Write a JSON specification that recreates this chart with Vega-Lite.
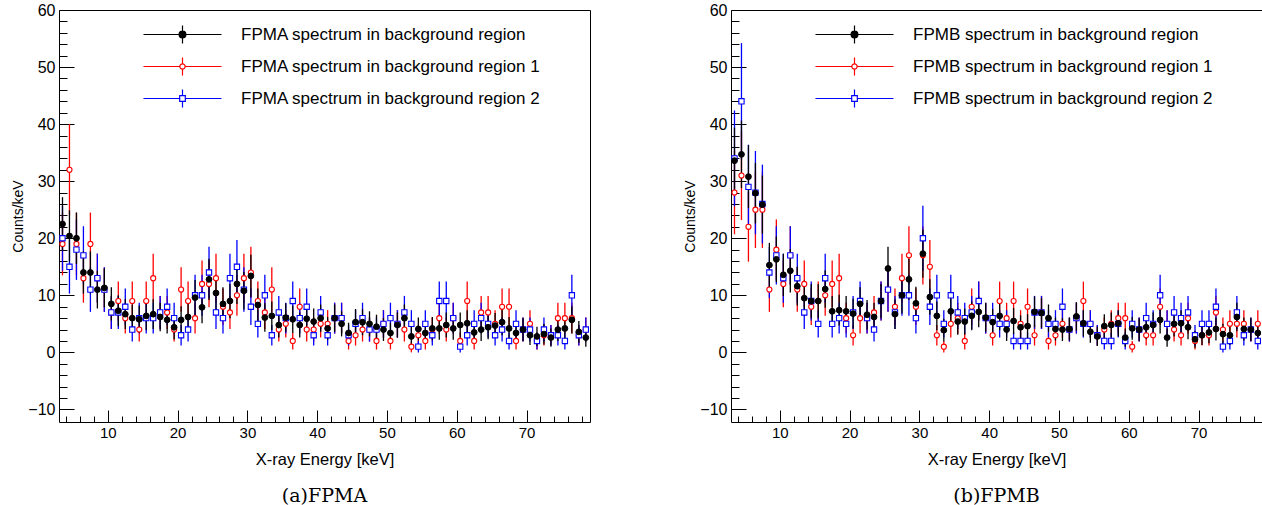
{
"$schema": "https://vega.github.io/schema/vega-lite/v6.json",
"background": "white",
"padding": {"left": 11, "top": 1, "right": 0, "bottom": 0},
"spacing": 91,
"datasets": {
"A": [
{"s":"r1","E":3.5,"v":19,"e":5.5},{"s":"r1","E":4.5,"v":32,"e":8.0},{"s":"r1","E":5.5,"v":19,"e":5.5},{"s":"r1","E":6.5,"v":13,"e":4.3},{"s":"r1","E":7.5,"v":19,"e":5.5},{"s":"r1","E":8.5,"v":13,"e":4.3},{"s":"r1","E":9.5,"v":11,"e":3.9},{"s":"r1","E":10.5,"v":7,"e":2.9},{"s":"r1","E":11.5,"v":9,"e":3.4},{"s":"r1","E":12.5,"v":6,"e":2.7},
{"s":"r1","E":13.5,"v":9,"e":3.4},{"s":"r1","E":14.5,"v":4,"e":2.1},{"s":"r1","E":15.5,"v":9,"e":3.4},{"s":"r1","E":16.5,"v":13,"e":4.3},{"s":"r1","E":17.5,"v":7,"e":2.9},{"s":"r1","E":18.5,"v":7,"e":2.9},{"s":"r1","E":19.5,"v":4,"e":2.1},{"s":"r1","E":20.5,"v":11,"e":3.9},{"s":"r1","E":21.5,"v":9,"e":3.4},{"s":"r1","E":22.5,"v":6,"e":2.7},
{"s":"r1","E":23.5,"v":12,"e":4.1},{"s":"r1","E":24.5,"v":12,"e":4.1},{"s":"r1","E":25.5,"v":13,"e":4.3},{"s":"r1","E":26.5,"v":8,"e":3.2},{"s":"r1","E":27.5,"v":7,"e":2.9},{"s":"r1","E":28.5,"v":10,"e":3.6},{"s":"r1","E":29.5,"v":13,"e":4.3},{"s":"r1","E":30.5,"v":14,"e":4.5},{"s":"r1","E":31.5,"v":9,"e":3.4},{"s":"r1","E":32.5,"v":7,"e":2.9},
{"s":"r1","E":33.5,"v":11,"e":3.9},{"s":"r1","E":34.5,"v":4,"e":2.1},{"s":"r1","E":35.5,"v":5,"e":2.4},{"s":"r1","E":36.5,"v":2,"e":1.5},{"s":"r1","E":37.5,"v":8,"e":3.2},{"s":"r1","E":38.5,"v":4,"e":2.1},{"s":"r1","E":39.5,"v":4,"e":2.1},{"s":"r1","E":40.5,"v":5,"e":2.4},{"s":"r1","E":41.5,"v":5,"e":2.4},{"s":"r1","E":42.5,"v":6,"e":2.7},
{"s":"r1","E":43.5,"v":6,"e":2.7},{"s":"r1","E":44.5,"v":2,"e":1.5},{"s":"r1","E":45.5,"v":3,"e":1.8},{"s":"r1","E":46.5,"v":4,"e":2.1},{"s":"r1","E":47.5,"v":4,"e":2.1},{"s":"r1","E":48.5,"v":2,"e":1.5},{"s":"r1","E":49.5,"v":5,"e":2.4},{"s":"r1","E":50.5,"v":2,"e":1.5},{"s":"r1","E":51.5,"v":5,"e":2.4},{"s":"r1","E":52.5,"v":4,"e":2.1},
{"s":"r1","E":53.5,"v":1,"e":1.0},{"s":"r1","E":54.5,"v":3,"e":1.8},{"s":"r1","E":55.5,"v":2,"e":1.5},{"s":"r1","E":56.5,"v":4,"e":2.1},{"s":"r1","E":57.5,"v":6,"e":2.7},{"s":"r1","E":58.5,"v":4,"e":2.1},{"s":"r1","E":59.5,"v":6,"e":2.7},{"s":"r1","E":60.5,"v":2,"e":1.5},{"s":"r1","E":61.5,"v":9,"e":3.4},{"s":"r1","E":62.5,"v":2,"e":1.5},
{"s":"r1","E":63.5,"v":7,"e":2.9},{"s":"r1","E":64.5,"v":7,"e":2.9},{"s":"r1","E":65.5,"v":5,"e":2.4},{"s":"r1","E":66.5,"v":8,"e":3.2},{"s":"r1","E":67.5,"v":8,"e":3.2},{"s":"r1","E":68.5,"v":2,"e":1.5},{"s":"r1","E":69.5,"v":4,"e":2.1},{"s":"r1","E":70.5,"v":5,"e":2.4},{"s":"r1","E":71.5,"v":2,"e":1.5},{"s":"r1","E":72.5,"v":3,"e":1.8},
{"s":"r1","E":73.5,"v":3,"e":1.8},{"s":"r1","E":74.5,"v":6,"e":2.7},{"s":"r1","E":75.5,"v":6,"e":2.7},{"s":"r1","E":76.5,"v":6,"e":2.7},{"s":"r1","E":77.5,"v":3,"e":1.8},{"s":"r1","E":78.5,"v":4,"e":2.1},
{"s":"r2","E":3.5,"v":20,"e":5.7},{"s":"r2","E":4.5,"v":15,"e":4.7},{"s":"r2","E":5.5,"v":18,"e":5.3},{"s":"r2","E":6.5,"v":17,"e":5.1},{"s":"r2","E":7.5,"v":11,"e":3.9},{"s":"r2","E":8.5,"v":13,"e":4.3},{"s":"r2","E":9.5,"v":11,"e":3.9},{"s":"r2","E":10.5,"v":7,"e":2.9},{"s":"r2","E":11.5,"v":7,"e":2.9},{"s":"r2","E":12.5,"v":8,"e":3.2},
{"s":"r2","E":13.5,"v":4,"e":2.1},{"s":"r2","E":14.5,"v":6,"e":2.7},{"s":"r2","E":15.5,"v":6,"e":2.7},{"s":"r2","E":16.5,"v":6,"e":2.7},{"s":"r2","E":17.5,"v":7,"e":2.9},{"s":"r2","E":18.5,"v":8,"e":3.2},{"s":"r2","E":19.5,"v":6,"e":2.7},{"s":"r2","E":20.5,"v":3,"e":1.8},{"s":"r2","E":21.5,"v":4,"e":2.1},{"s":"r2","E":22.5,"v":10,"e":3.6},
{"s":"r2","E":23.5,"v":10,"e":3.6},{"s":"r2","E":24.5,"v":14,"e":4.5},{"s":"r2","E":25.5,"v":7,"e":2.9},{"s":"r2","E":26.5,"v":6,"e":2.7},{"s":"r2","E":27.5,"v":13,"e":4.3},{"s":"r2","E":28.5,"v":15,"e":4.7},{"s":"r2","E":29.5,"v":11,"e":3.9},{"s":"r2","E":30.5,"v":8,"e":3.2},{"s":"r2","E":31.5,"v":5,"e":2.4},{"s":"r2","E":32.5,"v":10,"e":3.6},
{"s":"r2","E":33.5,"v":3,"e":1.8},{"s":"r2","E":34.5,"v":7,"e":2.9},{"s":"r2","E":35.5,"v":6,"e":2.7},{"s":"r2","E":36.5,"v":9,"e":3.4},{"s":"r2","E":37.5,"v":6,"e":2.7},{"s":"r2","E":38.5,"v":8,"e":3.2},{"s":"r2","E":39.5,"v":3,"e":1.8},{"s":"r2","E":40.5,"v":7,"e":2.9},{"s":"r2","E":41.5,"v":3,"e":1.8},{"s":"r2","E":42.5,"v":6,"e":2.7},
{"s":"r2","E":43.5,"v":6,"e":2.7},{"s":"r2","E":44.5,"v":3,"e":1.8},{"s":"r2","E":45.5,"v":5,"e":2.4},{"s":"r2","E":46.5,"v":6,"e":2.7},{"s":"r2","E":47.5,"v":4,"e":2.1},{"s":"r2","E":48.5,"v":4,"e":2.1},{"s":"r2","E":49.5,"v":5,"e":2.4},{"s":"r2","E":50.5,"v":6,"e":2.7},{"s":"r2","E":51.5,"v":5,"e":2.4},{"s":"r2","E":52.5,"v":7,"e":2.9},
{"s":"r2","E":53.5,"v":5,"e":2.4},{"s":"r2","E":54.5,"v":1,"e":1.0},{"s":"r2","E":55.5,"v":5,"e":2.4},{"s":"r2","E":56.5,"v":3,"e":1.8},{"s":"r2","E":57.5,"v":9,"e":3.4},{"s":"r2","E":58.5,"v":9,"e":3.4},{"s":"r2","E":59.5,"v":6,"e":2.7},{"s":"r2","E":60.5,"v":1,"e":1.0},{"s":"r2","E":61.5,"v":3,"e":1.8},{"s":"r2","E":62.5,"v":5,"e":2.4},
{"s":"r2","E":63.5,"v":6,"e":2.7},{"s":"r2","E":64.5,"v":5,"e":2.4},{"s":"r2","E":65.5,"v":3,"e":1.8},{"s":"r2","E":66.5,"v":4,"e":2.1},{"s":"r2","E":67.5,"v":2,"e":1.5},{"s":"r2","E":68.5,"v":5,"e":2.4},{"s":"r2","E":69.5,"v":4,"e":2.1},{"s":"r2","E":70.5,"v":4,"e":2.1},{"s":"r2","E":71.5,"v":2,"e":1.5},{"s":"r2","E":72.5,"v":4,"e":2.1},
{"s":"r2","E":73.5,"v":3,"e":1.8},{"s":"r2","E":74.5,"v":3,"e":1.8},{"s":"r2","E":75.5,"v":2,"e":1.5},{"s":"r2","E":76.5,"v":10,"e":3.6},{"s":"r2","E":77.5,"v":3,"e":1.8},{"s":"r2","E":78.5,"v":4,"e":2.1},
{"s":"b","E":3.5,"v":22.5,"e":4.7},{"s":"b","E":4.5,"v":20.4,"e":4.5},{"s":"b","E":5.5,"v":20.0,"e":4.5},{"s":"b","E":6.5,"v":14.0,"e":3.7},{"s":"b","E":7.5,"v":14.0,"e":3.7},{"s":"b","E":8.5,"v":11.0,"e":3.3},{"s":"b","E":9.5,"v":11.3,"e":3.4},{"s":"b","E":10.5,"v":8.5,"e":2.9},{"s":"b","E":11.5,"v":7.3,"e":2.7},{"s":"b","E":12.5,"v":6.7,"e":2.6},
{"s":"b","E":13.5,"v":6.0,"e":2.4},{"s":"b","E":14.5,"v":5.8,"e":2.4},{"s":"b","E":15.5,"v":6.4,"e":2.5},{"s":"b","E":16.5,"v":6.7,"e":2.6},{"s":"b","E":17.5,"v":6.2,"e":2.5},{"s":"b","E":18.5,"v":5.7,"e":2.4},{"s":"b","E":19.5,"v":4.4,"e":2.1},{"s":"b","E":20.5,"v":5.7,"e":2.4},{"s":"b","E":21.5,"v":6.2,"e":2.5},{"s":"b","E":22.5,"v":9.6,"e":3.1},
{"s":"b","E":23.5,"v":7.9,"e":2.8},{"s":"b","E":24.5,"v":12.8,"e":3.6},{"s":"b","E":25.5,"v":10.4,"e":3.2},{"s":"b","E":26.5,"v":8.5,"e":2.9},{"s":"b","E":27.5,"v":9.0,"e":3.0},{"s":"b","E":28.5,"v":12.0,"e":3.5},{"s":"b","E":29.5,"v":10.8,"e":3.3},{"s":"b","E":30.5,"v":13.4,"e":3.7},{"s":"b","E":31.5,"v":8.3,"e":2.9},{"s":"b","E":32.5,"v":6.1,"e":2.5},
{"s":"b","E":33.5,"v":6.4,"e":2.5},{"s":"b","E":34.5,"v":4.8,"e":2.2},{"s":"b","E":35.5,"v":6.1,"e":2.5},{"s":"b","E":36.5,"v":5.8,"e":2.4},{"s":"b","E":37.5,"v":4.8,"e":2.2},{"s":"b","E":38.5,"v":5.9,"e":2.4},{"s":"b","E":39.5,"v":5.4,"e":2.3},{"s":"b","E":40.5,"v":6.0,"e":2.4},{"s":"b","E":41.5,"v":4.2,"e":2.0},{"s":"b","E":42.5,"v":6.0,"e":2.4},
{"s":"b","E":43.5,"v":5.0,"e":2.2},{"s":"b","E":44.5,"v":3.4,"e":1.8},{"s":"b","E":45.5,"v":5.3,"e":2.3},{"s":"b","E":46.5,"v":5.3,"e":2.3},{"s":"b","E":47.5,"v":5.0,"e":2.2},{"s":"b","E":48.5,"v":4.5,"e":2.1},{"s":"b","E":49.5,"v":4.0,"e":2.0},{"s":"b","E":50.5,"v":3.4,"e":1.8},{"s":"b","E":51.5,"v":4.8,"e":2.2},{"s":"b","E":52.5,"v":6.0,"e":2.4},
{"s":"b","E":53.5,"v":2.8,"e":1.7},{"s":"b","E":54.5,"v":4.1,"e":2.0},{"s":"b","E":55.5,"v":3.4,"e":1.8},{"s":"b","E":56.5,"v":4.2,"e":2.0},{"s":"b","E":57.5,"v":4.2,"e":2.0},{"s":"b","E":58.5,"v":4.8,"e":2.2},{"s":"b","E":59.5,"v":4.2,"e":2.0},{"s":"b","E":60.5,"v":4.8,"e":2.2},{"s":"b","E":61.5,"v":5.1,"e":2.3},{"s":"b","E":62.5,"v":3.5,"e":1.9},
{"s":"b","E":63.5,"v":4.0,"e":2.0},{"s":"b","E":64.5,"v":4.4,"e":2.1},{"s":"b","E":65.5,"v":4.7,"e":2.2},{"s":"b","E":66.5,"v":5.3,"e":2.3},{"s":"b","E":67.5,"v":4.2,"e":2.0},{"s":"b","E":68.5,"v":3.4,"e":1.8},{"s":"b","E":69.5,"v":4.0,"e":2.0},{"s":"b","E":70.5,"v":3.0,"e":1.7},{"s":"b","E":71.5,"v":2.8,"e":1.7},{"s":"b","E":72.5,"v":3.2,"e":1.8},
{"s":"b","E":73.5,"v":2.6,"e":1.6},{"s":"b","E":74.5,"v":4.0,"e":2.0},{"s":"b","E":75.5,"v":4.2,"e":2.0},{"s":"b","E":76.5,"v":5.7,"e":2.4},{"s":"b","E":77.5,"v":3.6,"e":1.9},{"s":"b","E":78.5,"v":2.6,"e":1.6}
],
"B": [
{"s":"r1","E":3.5,"v":28,"e":7.3},{"s":"r1","E":4.5,"v":31,"e":7.8},{"s":"r1","E":5.5,"v":22,"e":6.1},{"s":"r1","E":6.5,"v":25,"e":6.7},{"s":"r1","E":7.5,"v":25,"e":6.7},{"s":"r1","E":8.5,"v":11,"e":3.9},{"s":"r1","E":9.5,"v":18,"e":5.3},{"s":"r1","E":10.5,"v":12,"e":4.1},{"s":"r1","E":11.5,"v":17,"e":5.1},{"s":"r1","E":12.5,"v":11,"e":3.9},
{"s":"r1","E":13.5,"v":12,"e":4.1},{"s":"r1","E":14.5,"v":8,"e":3.2},{"s":"r1","E":15.5,"v":9,"e":3.4},{"s":"r1","E":16.5,"v":10,"e":3.6},{"s":"r1","E":17.5,"v":12,"e":4.1},{"s":"r1","E":18.5,"v":13,"e":4.3},{"s":"r1","E":19.5,"v":6,"e":2.7},{"s":"r1","E":20.5,"v":3,"e":1.8},{"s":"r1","E":21.5,"v":6,"e":2.7},{"s":"r1","E":22.5,"v":6,"e":2.7},
{"s":"r1","E":23.5,"v":7,"e":2.9},{"s":"r1","E":24.5,"v":9,"e":3.4},{"s":"r1","E":25.5,"v":11,"e":3.9},{"s":"r1","E":26.5,"v":8,"e":3.2},{"s":"r1","E":27.5,"v":13,"e":4.3},{"s":"r1","E":28.5,"v":17,"e":5.1},{"s":"r1","E":29.5,"v":8,"e":3.2},{"s":"r1","E":30.5,"v":17,"e":5.1},{"s":"r1","E":31.5,"v":15,"e":4.7},{"s":"r1","E":32.5,"v":3,"e":1.8},
{"s":"r1","E":33.5,"v":1,"e":1.0},{"s":"r1","E":34.5,"v":5,"e":2.4},{"s":"r1","E":35.5,"v":6,"e":2.7},{"s":"r1","E":36.5,"v":2,"e":1.5},{"s":"r1","E":37.5,"v":8,"e":3.2},{"s":"r1","E":38.5,"v":9,"e":3.4},{"s":"r1","E":39.5,"v":6,"e":2.7},{"s":"r1","E":40.5,"v":3,"e":1.8},{"s":"r1","E":41.5,"v":9,"e":3.4},{"s":"r1","E":42.5,"v":6,"e":2.7},
{"s":"r1","E":43.5,"v":9,"e":3.4},{"s":"r1","E":44.5,"v":5,"e":2.4},{"s":"r1","E":45.5,"v":8,"e":3.2},{"s":"r1","E":46.5,"v":3,"e":1.8},{"s":"r1","E":47.5,"v":7,"e":2.9},{"s":"r1","E":48.5,"v":2,"e":1.5},{"s":"r1","E":49.5,"v":3,"e":1.8},{"s":"r1","E":50.5,"v":5,"e":2.4},{"s":"r1","E":51.5,"v":4,"e":2.1},{"s":"r1","E":52.5,"v":6,"e":2.7},
{"s":"r1","E":53.5,"v":9,"e":3.4},{"s":"r1","E":54.5,"v":5,"e":2.4},{"s":"r1","E":55.5,"v":3,"e":1.8},{"s":"r1","E":56.5,"v":4,"e":2.1},{"s":"r1","E":57.5,"v":5,"e":2.4},{"s":"r1","E":58.5,"v":6,"e":2.7},{"s":"r1","E":59.5,"v":6,"e":2.7},{"s":"r1","E":60.5,"v":1,"e":1.0},{"s":"r1","E":61.5,"v":4,"e":2.1},{"s":"r1","E":62.5,"v":3,"e":1.8},
{"s":"r1","E":63.5,"v":3,"e":1.8},{"s":"r1","E":64.5,"v":8,"e":3.2},{"s":"r1","E":65.5,"v":5,"e":2.4},{"s":"r1","E":66.5,"v":4,"e":2.1},{"s":"r1","E":67.5,"v":3,"e":1.8},{"s":"r1","E":68.5,"v":6,"e":2.7},{"s":"r1","E":69.5,"v":2,"e":1.5},{"s":"r1","E":70.5,"v":3,"e":1.8},{"s":"r1","E":71.5,"v":3,"e":1.8},{"s":"r1","E":72.5,"v":7,"e":2.9},
{"s":"r1","E":73.5,"v":4,"e":2.1},{"s":"r1","E":74.5,"v":5,"e":2.4},{"s":"r1","E":75.5,"v":5,"e":2.4},{"s":"r1","E":76.5,"v":5,"e":2.4},{"s":"r1","E":77.5,"v":4,"e":2.1},{"s":"r1","E":78.5,"v":5,"e":2.4},
{"s":"r2","E":3.5,"v":34,"e":8.4},{"s":"r2","E":4.5,"v":44,"e":10.2},{"s":"r2","E":5.5,"v":29,"e":7.4},{"s":"r2","E":6.5,"v":28,"e":7.3},{"s":"r2","E":7.5,"v":26,"e":6.9},{"s":"r2","E":8.5,"v":14,"e":4.5},{"s":"r2","E":9.5,"v":17,"e":5.1},{"s":"r2","E":10.5,"v":13,"e":4.3},{"s":"r2","E":11.5,"v":17,"e":5.1},{"s":"r2","E":12.5,"v":13,"e":4.3},
{"s":"r2","E":13.5,"v":7,"e":2.9},{"s":"r2","E":14.5,"v":9,"e":3.4},{"s":"r2","E":15.5,"v":5,"e":2.4},{"s":"r2","E":16.5,"v":13,"e":4.3},{"s":"r2","E":17.5,"v":5,"e":2.4},{"s":"r2","E":18.5,"v":6,"e":2.7},{"s":"r2","E":19.5,"v":5,"e":2.4},{"s":"r2","E":20.5,"v":7,"e":2.9},{"s":"r2","E":21.5,"v":9,"e":3.4},{"s":"r2","E":22.5,"v":6,"e":2.7},
{"s":"r2","E":23.5,"v":4,"e":2.1},{"s":"r2","E":24.5,"v":9,"e":3.4},{"s":"r2","E":25.5,"v":11,"e":3.9},{"s":"r2","E":26.5,"v":7,"e":2.9},{"s":"r2","E":27.5,"v":10,"e":3.6},{"s":"r2","E":28.5,"v":10,"e":3.6},{"s":"r2","E":29.5,"v":6,"e":2.7},{"s":"r2","E":30.5,"v":20,"e":5.7},{"s":"r2","E":31.5,"v":8,"e":3.2},{"s":"r2","E":32.5,"v":10,"e":3.6},
{"s":"r2","E":33.5,"v":5,"e":2.4},{"s":"r2","E":34.5,"v":10,"e":3.6},{"s":"r2","E":35.5,"v":7,"e":2.9},{"s":"r2","E":36.5,"v":6,"e":2.7},{"s":"r2","E":37.5,"v":7,"e":2.9},{"s":"r2","E":38.5,"v":9,"e":3.4},{"s":"r2","E":39.5,"v":6,"e":2.7},{"s":"r2","E":40.5,"v":6,"e":2.7},{"s":"r2","E":41.5,"v":5,"e":2.4},{"s":"r2","E":42.5,"v":5,"e":2.4},
{"s":"r2","E":43.5,"v":2,"e":1.5},{"s":"r2","E":44.5,"v":2,"e":1.5},{"s":"r2","E":45.5,"v":2,"e":1.5},{"s":"r2","E":46.5,"v":7,"e":2.9},{"s":"r2","E":47.5,"v":7,"e":2.9},{"s":"r2","E":48.5,"v":5,"e":2.4},{"s":"r2","E":49.5,"v":5,"e":2.4},{"s":"r2","E":50.5,"v":8,"e":3.2},{"s":"r2","E":51.5,"v":4,"e":2.1},{"s":"r2","E":52.5,"v":6,"e":2.7},
{"s":"r2","E":53.5,"v":5,"e":2.4},{"s":"r2","E":54.5,"v":5,"e":2.4},{"s":"r2","E":55.5,"v":3,"e":1.8},{"s":"r2","E":56.5,"v":2,"e":1.5},{"s":"r2","E":57.5,"v":2,"e":1.5},{"s":"r2","E":58.5,"v":5,"e":2.4},{"s":"r2","E":59.5,"v":2,"e":1.5},{"s":"r2","E":60.5,"v":5,"e":2.4},{"s":"r2","E":61.5,"v":4,"e":2.1},{"s":"r2","E":62.5,"v":6,"e":2.7},
{"s":"r2","E":63.5,"v":5,"e":2.4},{"s":"r2","E":64.5,"v":10,"e":3.6},{"s":"r2","E":65.5,"v":5,"e":2.4},{"s":"r2","E":66.5,"v":7,"e":2.9},{"s":"r2","E":67.5,"v":6,"e":2.7},{"s":"r2","E":68.5,"v":7,"e":2.9},{"s":"r2","E":69.5,"v":3,"e":1.8},{"s":"r2","E":70.5,"v":5,"e":2.4},{"s":"r2","E":71.5,"v":5,"e":2.4},{"s":"r2","E":72.5,"v":8,"e":3.2},
{"s":"r2","E":73.5,"v":1,"e":1.0},{"s":"r2","E":74.5,"v":2,"e":1.5},{"s":"r2","E":75.5,"v":7,"e":2.9},{"s":"r2","E":76.5,"v":3,"e":1.8},{"s":"r2","E":77.5,"v":4,"e":2.1},{"s":"r2","E":78.5,"v":2,"e":1.5},
{"s":"b","E":3.5,"v":33.6,"e":5.8},{"s":"b","E":4.5,"v":34.7,"e":5.9},{"s":"b","E":5.5,"v":30.8,"e":5.5},{"s":"b","E":6.5,"v":27.9,"e":5.3},{"s":"b","E":7.5,"v":25.9,"e":5.1},{"s":"b","E":8.5,"v":15.3,"e":3.9},{"s":"b","E":9.5,"v":16.3,"e":4.0},{"s":"b","E":10.5,"v":13.6,"e":3.7},{"s":"b","E":11.5,"v":14.3,"e":3.8},{"s":"b","E":12.5,"v":11.6,"e":3.4},
{"s":"b","E":13.5,"v":9.5,"e":3.1},{"s":"b","E":14.5,"v":9.0,"e":3.0},{"s":"b","E":15.5,"v":9.0,"e":3.0},{"s":"b","E":16.5,"v":11.1,"e":3.3},{"s":"b","E":17.5,"v":7.2,"e":2.7},{"s":"b","E":18.5,"v":7.4,"e":2.7},{"s":"b","E":19.5,"v":7.2,"e":2.7},{"s":"b","E":20.5,"v":6.8,"e":2.6},{"s":"b","E":21.5,"v":8.5,"e":2.9},{"s":"b","E":22.5,"v":6.6,"e":2.6},
{"s":"b","E":23.5,"v":6.2,"e":2.5},{"s":"b","E":24.5,"v":9.0,"e":3.0},{"s":"b","E":25.5,"v":14.7,"e":3.8},{"s":"b","E":26.5,"v":6.7,"e":2.6},{"s":"b","E":27.5,"v":10.0,"e":3.2},{"s":"b","E":28.5,"v":12.8,"e":3.6},{"s":"b","E":29.5,"v":8.6,"e":2.9},{"s":"b","E":30.5,"v":17.3,"e":4.2},{"s":"b","E":31.5,"v":9.7,"e":3.1},{"s":"b","E":32.5,"v":6.4,"e":2.5},
{"s":"b","E":33.5,"v":3.9,"e":2.0},{"s":"b","E":34.5,"v":7.2,"e":2.7},{"s":"b","E":35.5,"v":5.4,"e":2.3},{"s":"b","E":36.5,"v":5.4,"e":2.3},{"s":"b","E":37.5,"v":6.4,"e":2.5},{"s":"b","E":38.5,"v":7.1,"e":2.7},{"s":"b","E":39.5,"v":6.1,"e":2.5},{"s":"b","E":40.5,"v":5.3,"e":2.3},{"s":"b","E":41.5,"v":6.4,"e":2.5},{"s":"b","E":42.5,"v":4.0,"e":2.0},
{"s":"b","E":43.5,"v":5.5,"e":2.3},{"s":"b","E":44.5,"v":4.4,"e":2.1},{"s":"b","E":45.5,"v":4.6,"e":2.1},{"s":"b","E":46.5,"v":7.1,"e":2.7},{"s":"b","E":47.5,"v":6.9,"e":2.6},{"s":"b","E":48.5,"v":6.0,"e":2.4},{"s":"b","E":49.5,"v":4.1,"e":2.0},{"s":"b","E":50.5,"v":4.0,"e":2.0},{"s":"b","E":51.5,"v":4.1,"e":2.0},{"s":"b","E":52.5,"v":6.3,"e":2.5},
{"s":"b","E":53.5,"v":5.1,"e":2.3},{"s":"b","E":54.5,"v":3.6,"e":1.9},{"s":"b","E":55.5,"v":2.8,"e":1.7},{"s":"b","E":56.5,"v":4.6,"e":2.1},{"s":"b","E":57.5,"v":4.8,"e":2.2},{"s":"b","E":58.5,"v":5.1,"e":2.3},{"s":"b","E":59.5,"v":2.6,"e":1.6},{"s":"b","E":60.5,"v":4.2,"e":2.0},{"s":"b","E":61.5,"v":4.0,"e":2.0},{"s":"b","E":62.5,"v":4.4,"e":2.1},
{"s":"b","E":63.5,"v":4.8,"e":2.2},{"s":"b","E":64.5,"v":5.7,"e":2.4},{"s":"b","E":65.5,"v":2.6,"e":1.6},{"s":"b","E":66.5,"v":5.0,"e":2.2},{"s":"b","E":67.5,"v":5.1,"e":2.3},{"s":"b","E":68.5,"v":4.4,"e":2.1},{"s":"b","E":69.5,"v":2.3,"e":1.5},{"s":"b","E":70.5,"v":3.0,"e":1.7},{"s":"b","E":71.5,"v":3.5,"e":1.9},{"s":"b","E":72.5,"v":4.1,"e":2.0},
{"s":"b","E":73.5,"v":3.2,"e":1.8},{"s":"b","E":74.5,"v":3.0,"e":1.7},{"s":"b","E":75.5,"v":6.2,"e":2.5},{"s":"b","E":76.5,"v":4.1,"e":2.0},{"s":"b","E":77.5,"v":4.0,"e":2.0},{"s":"b","E":78.5,"v":3.4,"e":1.8}
]
},
"hconcat": [
{
"width": 531, "height": 412,
"data": {"name": "A"},
"title": {"text": "(a)FPMA", "orient": "bottom", "anchor": "middle", "frame": "group", "font": "DejaVu Serif", "fontSize": 19, "fontWeight": "normal", "color": "#000000", "offset": 19},
"encoding": {
"x": {"field": "E", "type": "quantitative", "scale": {"domain": [3, 79.1], "nice": false, "zero": false},
 "axis": {"title": "X-ray Energy [keV]", "values": [4,6,8,10,12,14,16,18,20,22,24,26,28,30,32,34,36,38,40,42,44,46,48,50,52,54,56,58,60,62,64,66,68,70,72,74,76,78],
  "tickSize": {"condition": {"test": "datum.value % 10 === 0", "value": -12}, "value": -6},
  "labelExpr": "datum.value % 10 === 0 ? datum.label : ''", "labelPadding": 15, "labelFontSize": 15, "titleFontSize": 16.5, "titlePadding": 5}},
"y": {"field": "v", "type": "quantitative", "scale": {"domain": [-12.2, 60], "nice": false, "zero": false},
 "axis": {"title": "Counts/keV", "values": [-10,-8,-6,-4,-2,0,2,4,6,8,10,12,14,16,18,20,22,24,26,28,30,32,34,36,38,40,42,44,46,48,50,52,54,56,58,60],
  "tickSize": {"condition": {"test": "datum.value % 10 === 0", "value": -15}, "value": -8},
  "labelExpr": "datum.value % 10 === 0 ? datum.label : ''", "labelPadding": 19, "labelFontSize": 16, "titleFontSize": 14, "titlePadding": 2}}
},
"layer": [
{"transform": [{"filter": "datum.s == 'r1'"}], "mark": {"type": "errorbar", "thickness": 1.3, "color": "#ff0000"}, "encoding": {"yError": {"field": "e"}}},
{"transform": [{"filter": "datum.s == 'r2'"}], "mark": {"type": "errorbar", "thickness": 1.3, "color": "#0000ff"}, "encoding": {"yError": {"field": "e"}}},
{"transform": [{"filter": "datum.s == 'b'"}], "mark": {"type": "errorbar", "thickness": 1.3, "color": "#000000"}, "encoding": {"yError": {"field": "e"}}},
{"transform": [{"filter": "datum.s == 'r1'"}], "mark": {"type": "point", "shape": "circle", "filled": true, "fill": "#ffffff", "stroke": "#ff0000", "strokeWidth": 1.1, "size": 26, "opacity": 1}},
{"transform": [{"filter": "datum.s == 'r2'"}], "mark": {"type": "point", "shape": "square", "filled": true, "fill": "#ffffff", "stroke": "#0000ff", "strokeWidth": 1.1, "size": 28, "opacity": 1}},
{"transform": [{"filter": "datum.s == 'b'"}], "mark": {"type": "point", "shape": "circle", "filled": true, "fill": "#000000", "stroke": "#000000", "strokeWidth": 1, "size": 34, "opacity": 1}},
{"transform": [{"filter": "datum.E < 0"}], "mark": {"type": "point", "filled": false, "opacity": 1},
 "encoding": {
  "fill": {"field": "s", "type": "nominal", "scale": {"domain": ["b","r1","r2"], "range": ["#000000","#ffffff","#ffffff"]},
   "legend": {"orient": "none", "legendX": 115, "legendY": 16, "title": null, "direction": "vertical", "padding": 0,
    "symbolSize": 100, "symbolStrokeWidth": 1.2, "symbolOpacity": 1, "labelOffset": 50, "rowPadding": 9, "labelFont": "Liberation Sans", "labelFontSize": 17, "labelColor": "#000000", "labelLimit": 600,
    "labelExpr": "datum.value == 'b' ? 'FPMA spectrum in background region' : datum.value == 'r1' ? 'FPMA spectrum in background region 1' : 'FPMA spectrum in background region 2'"}},
  "stroke": {"field": "s", "type": "nominal", "scale": {"domain": ["b","r1","r2"], "range": ["#000000","#ff0000","#0000ff"]}},
  "shape": {"field": "s", "type": "nominal", "scale": {"domain": ["b","r1","r2"], "range": [
    "M-7.8,0L7.8,0M0,-1.8L0,1.8M-0.68,0A0.68,0.68,0,1,1,0.68,0A0.68,0.68,0,1,1,-0.68,0Z",
    "M-7.8,0L-0.54,0M0.54,0L7.8,0M0,-1.8L0,-0.54M0,0.54L0,1.8M-0.54,0A0.54,0.54,0,1,1,0.54,0A0.54,0.54,0,1,1,-0.54,0Z",
    "M-7.8,0L-0.56,0M0.56,0L7.8,0M0,-1.8L0,-0.56M0,0.56L0,1.8M-0.56,-0.56L0.56,-0.56L0.56,0.56L-0.56,0.56Z"]}}}}
]
},
{
"width": 531, "height": 412,
"data": {"name": "B"},
"title": {"text": "(b)FPMB", "orient": "bottom", "anchor": "middle", "frame": "group", "font": "DejaVu Serif", "fontSize": 19, "fontWeight": "normal", "color": "#000000", "offset": 19},
"encoding": {
"x": {"field": "E", "type": "quantitative", "scale": {"domain": [3, 79.1], "nice": false, "zero": false},
 "axis": {"title": "X-ray Energy [keV]", "values": [4,6,8,10,12,14,16,18,20,22,24,26,28,30,32,34,36,38,40,42,44,46,48,50,52,54,56,58,60,62,64,66,68,70,72,74,76,78],
  "tickSize": {"condition": {"test": "datum.value % 10 === 0", "value": -12}, "value": -6},
  "labelExpr": "datum.value % 10 === 0 ? datum.label : ''", "labelPadding": 15, "labelFontSize": 15, "titleFontSize": 16.5, "titlePadding": 5}},
"y": {"field": "v", "type": "quantitative", "scale": {"domain": [-12.2, 60], "nice": false, "zero": false},
 "axis": {"title": "Counts/keV", "values": [-10,-8,-6,-4,-2,0,2,4,6,8,10,12,14,16,18,20,22,24,26,28,30,32,34,36,38,40,42,44,46,48,50,52,54,56,58,60],
  "tickSize": {"condition": {"test": "datum.value % 10 === 0", "value": -15}, "value": -8},
  "labelExpr": "datum.value % 10 === 0 ? datum.label : ''", "labelPadding": 19, "labelFontSize": 16, "titleFontSize": 14, "titlePadding": 2}}
},
"layer": [
{"transform": [{"filter": "datum.s == 'r1'"}], "mark": {"type": "errorbar", "thickness": 1.3, "color": "#ff0000"}, "encoding": {"yError": {"field": "e"}}},
{"transform": [{"filter": "datum.s == 'r2'"}], "mark": {"type": "errorbar", "thickness": 1.3, "color": "#0000ff"}, "encoding": {"yError": {"field": "e"}}},
{"transform": [{"filter": "datum.s == 'b'"}], "mark": {"type": "errorbar", "thickness": 1.3, "color": "#000000"}, "encoding": {"yError": {"field": "e"}}},
{"transform": [{"filter": "datum.s == 'r1'"}], "mark": {"type": "point", "shape": "circle", "filled": true, "fill": "#ffffff", "stroke": "#ff0000", "strokeWidth": 1.1, "size": 26, "opacity": 1}},
{"transform": [{"filter": "datum.s == 'r2'"}], "mark": {"type": "point", "shape": "square", "filled": true, "fill": "#ffffff", "stroke": "#0000ff", "strokeWidth": 1.1, "size": 28, "opacity": 1}},
{"transform": [{"filter": "datum.s == 'b'"}], "mark": {"type": "point", "shape": "circle", "filled": true, "fill": "#000000", "stroke": "#000000", "strokeWidth": 1, "size": 34, "opacity": 1}},
{"transform": [{"filter": "datum.E < 0"}], "mark": {"type": "point", "filled": false, "opacity": 1},
 "encoding": {
  "fill": {"field": "s", "type": "nominal", "scale": {"domain": ["b","r1","r2"], "range": ["#000000","#ffffff","#ffffff"]},
   "legend": {"orient": "none", "legendX": 115, "legendY": 16, "title": null, "direction": "vertical", "padding": 0,
    "symbolSize": 100, "symbolStrokeWidth": 1.2, "symbolOpacity": 1, "labelOffset": 50, "rowPadding": 9, "labelFont": "Liberation Sans", "labelFontSize": 17, "labelColor": "#000000", "labelLimit": 600,
    "labelExpr": "datum.value == 'b' ? 'FPMB spectrum in background region' : datum.value == 'r1' ? 'FPMB spectrum in background region 1' : 'FPMB spectrum in background region 2'"}},
  "stroke": {"field": "s", "type": "nominal", "scale": {"domain": ["b","r1","r2"], "range": ["#000000","#ff0000","#0000ff"]}},
  "shape": {"field": "s", "type": "nominal", "scale": {"domain": ["b","r1","r2"], "range": [
    "M-7.8,0L7.8,0M0,-1.8L0,1.8M-0.68,0A0.68,0.68,0,1,1,0.68,0A0.68,0.68,0,1,1,-0.68,0Z",
    "M-7.8,0L-0.54,0M0.54,0L7.8,0M0,-1.8L0,-0.54M0,0.54L0,1.8M-0.54,0A0.54,0.54,0,1,1,0.54,0A0.54,0.54,0,1,1,-0.54,0Z",
    "M-7.8,0L-0.56,0M0.56,0L7.8,0M0,-1.8L0,-0.56M0,0.56L0,1.8M-0.56,-0.56L0.56,-0.56L0.56,0.56L-0.56,0.56Z"]}}}}
]
}
],
"resolve": {"scale": {"stroke": "independent", "fill": "independent", "shape": "independent"}, "legend": {"stroke": "independent", "fill": "independent", "shape": "independent"}},
"config": {
"view": {"stroke": "#000000", "strokeWidth": 1},
"font": "Liberation Sans",
"axis": {"labelFont": "Liberation Sans", "titleFont": "Liberation Sans", "labelColor": "#000000", "titleColor": "#000000", "titleFontWeight": "normal", "tickColor": "#000000", "tickWidth": 1, "domain": false, "grid": false, "labelOverlap": false, "labelFlush": false, "labelBound": false}
}
}
